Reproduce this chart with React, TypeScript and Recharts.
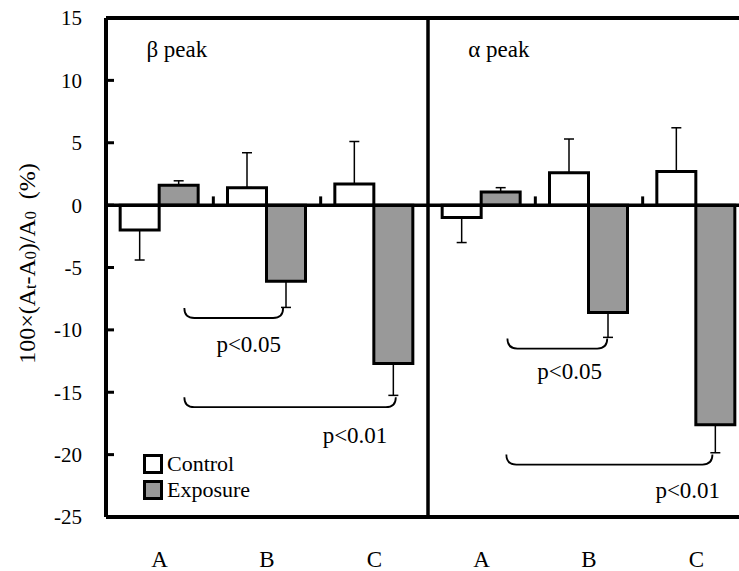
import React from 'react'
import {
  BarChart, Bar, XAxis, YAxis, ErrorBar, ReferenceLine, ReferenceDot, Legend,
} from 'recharts'

// groups (β peak, α peak) x samples A, B, C
const categories = ['A', 'B', 'C']
const betaControl = [-2.0, 1.4, 1.7]
const betaControlErr = [2.4, 2.8, 3.4]
const betaExposure = [1.6, -6.1, -12.7]
const betaExposureErr = [0.35, 2.1, 2.55]
const alphaControl = [-1.0, 2.6, 2.7]
const alphaControlErr = [2.0, 2.7, 3.5]
const alphaExposure = [1.05, -8.6, -17.6]
const alphaExposureErr = [0.35, 2.0, 2.25]
const yTicks = [-25, -20, -15, -10, -5, 0, 5, 10, 15]

// error bars only point away from zero
const oneSided = (v: number, e: number) => (v < 0 ? [e, 0] : [0, e])

const rows = [
  ...categories.map((c, i) => ({
    id: 'b' + c, label: c, pos: i + 0.5,
    control: betaControl[i], controlErr: oneSided(betaControl[i], betaControlErr[i]),
    exposure: betaExposure[i], exposureErr: oneSided(betaExposure[i], betaExposureErr[i]),
  })),
  ...categories.map((c, i) => ({
    id: 'a' + c, label: c, pos: i + 3.5,
    control: alphaControl[i], controlErr: oneSided(alphaControl[i], alphaControlErr[i]),
    exposure: alphaExposure[i], exposureErr: oneSided(alphaExposure[i], alphaExposureErr[i]),
  })),
]

// significance brackets, in category-position / value units
const brackets = [
  { from: 0.73, to: 1.65, y: -9.05, text: 'p<0.05', tx: 1.33, ty: -11.1 },
  { from: 0.73, to: 2.7, y: -16.2, text: 'p<0.01', tx: 2.32, ty: -18.4 },
  { from: 3.74, to: 4.67, y: -11.5, text: 'p<0.05', tx: 4.32, ty: -13.3 },
  { from: 3.73, to: 5.65, y: -20.8, text: 'p<0.01', tx: 5.42, ty: -22.8 },
]
const panels = [
  { text: 'β peak', x: 0.66, y: 12.5 },
  { text: 'α peak', x: 3.66, y: 12.5 },
]

const GRAY = '#999999'
const FONT = 'Liberation Serif'

const Bracket = (p: any) => {
  const { x1, y1, x2 } = p
  const h = 10
  const d = `M${x1},${y1 - h} Q${x1},${y1} ${x1 + h},${y1} L${x2 - h},${y1} Q${x2},${y1} ${x2},${y1 - h}`
  return <path d={d} fill="none" stroke="#000" strokeWidth={1.8} />
}

const YLabel = (props: any) => {
  const vb = props.viewBox || { x: 0, y: 18, width: 106, height: 499 }
  const cx = vb.x + 27
  const cy = vb.y + vb.height / 2 - 4
  return (
    <text x={cx} y={cy} transform={`rotate(-90 ${cx} ${cy})`} textAnchor="middle"
      dominantBaseline="central" fontSize={24} fill="#000" fontFamily={FONT}>
      <tspan>100×(A</tspan>
      <tspan fontSize={16} dy={3}>t</tspan>
      <tspan dy={-3}>-A</tspan>
      <tspan fontSize={16} dy={3}>0</tspan>
      <tspan dy={-3}>)/A</tspan>
      <tspan fontSize={16} dy={3}>0</tspan>
      <tspan dy={-3}>{'\u00a0\u00a0(%)'}</tspan>
    </text>
  )
}

const LegendBox = ({ payload }: any) => (
  <div style={{ fontFamily: FONT, fontSize: 22, lineHeight: '26px', color: '#000' }}>
    {(payload || []).map((p: any) => (
      <div key={p.value} style={{ display: 'flex', alignItems: 'center' }}>
        <span style={{
          display: 'inline-block', width: 14, height: 14, border: '3px solid #000',
          background: p.value === 'Control' ? '#fff' : GRAY, marginRight: 4,
        }} />
        {p.value}
      </div>
    ))}
  </div>
)

export default function App() {
  return (
    <div style={{ position: 'absolute', left: 0, top: 0, width: 739, height: 571, overflow: 'hidden', background: '#fff', fontFamily: FONT }}>
      <BarChart width={760} height={571} data={rows} margin={{ top: 18, right: 10, bottom: 0, left: 0 }}
        barCategoryGap="13.2%" barGap={0}>
        <XAxis dataKey="id" tickFormatter={(v: string) => v.slice(1)} height={54}
          tickLine={false} tickSize={0} tickMargin={34}
          axisLine={{ stroke: '#000', strokeWidth: 4 }}
          tick={{ fill: '#000', fontSize: 23, fontFamily: FONT }} />
        <XAxis xAxisId="num" type="number" dataKey="pos" domain={[0, 6]} hide />
        <YAxis domain={[-25, 15]} ticks={yTicks} width={106} interval={0}
          axisLine={{ stroke: '#000', strokeWidth: 4 }}
          tickLine={{ stroke: '#000', strokeWidth: 3 }} tickSize={-8} tickMargin={32}
          tick={{ fill: '#000', fontSize: 21, fontFamily: FONT }}
          label={{ content: YLabel }} />
        <Legend layout="vertical" align="center" verticalAlign="middle"
          wrapperStyle={{ left: 143, top: 451, width: 'auto' }} content={<LegendBox />} />
        <Bar dataKey="control" name="Control" fill="#fff" stroke="#000" strokeWidth={3} isAnimationActive={false}>
          <ErrorBar dataKey="controlErr" direction="y" width={5} stroke="#000" strokeWidth={1.5} />
        </Bar>
        <Bar dataKey="exposure" name="Exposure" fill={GRAY} stroke="#000" strokeWidth={3} isAnimationActive={false}>
          <ErrorBar dataKey="exposureErr" direction="y" width={5} stroke="#000" strokeWidth={1.5} />
        </Bar>
        <ReferenceLine y={0} stroke="#000" strokeWidth={3.5} />
        <ReferenceLine y={15} stroke="#000" strokeWidth={4} />
        <ReferenceLine xAxisId="num" x={3} stroke="#000" strokeWidth={3.5} />
        {[1, 2, 4, 5].map((x) => (
          <ReferenceLine key={x} xAxisId="num" stroke="#000" strokeWidth={3}
            segment={[{ x, y: -0.1 }, { x, y: 0.7 }]} />
        ))}
        {brackets.map((b, i) => (
          <ReferenceLine key={'br' + i} xAxisId="num" shape={Bracket}
            segment={[{ x: b.from, y: b.y }, { x: b.to, y: b.y }]} />
        ))}
        {brackets.map((b, i) => (
          <ReferenceDot key={'bt' + i} xAxisId="num" x={b.tx} y={b.ty} r={0} stroke="none"
            label={{ value: b.text, position: 'center', fill: '#000', fontSize: 23, fontFamily: FONT }} />
        ))}
        {panels.map((p) => (
          <ReferenceDot key={p.text} xAxisId="num" x={p.x} y={p.y} r={0} stroke="none"
            label={{ value: p.text, position: 'center', fill: '#000', fontSize: 23, fontFamily: FONT }} />
        ))}
      </BarChart>
    </div>
  )
}
